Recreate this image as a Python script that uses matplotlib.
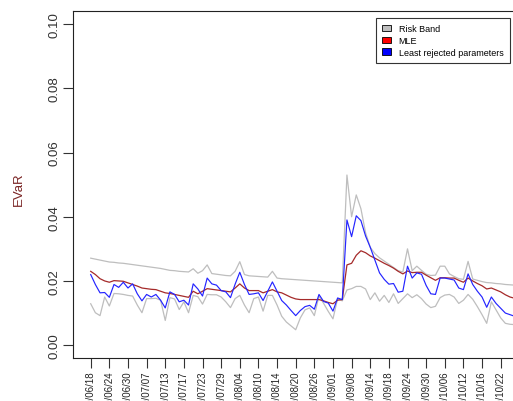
import matplotlib.pyplot as plt
from matplotlib.patches import Patch

plt.rcParams.update({"font.family": ["Liberation Sans", "DejaVu Sans"]})

# tick labels, one every 4 observations
tick_labels = [
    "2010/06/18", "2010/06/24", "2010/06/30", "2010/07/07", "2010/07/13",
    "2010/07/17", "2010/07/23", "2010/07/29", "2010/08/04", "2010/08/10",
    "2010/08/14", "2010/08/20", "2010/08/26", "2010/09/01", "2010/09/08",
    "2010/09/14", "2010/09/18", "2010/09/24", "2010/09/30", "2010/10/06",
    "2010/10/12", "2010/10/16", "2010/10/22",
]

band_upper = [
    0.0271, 0.0268, 0.0265, 0.0262, 0.0259, 0.0258, 0.0256, 0.0255, 0.0253, 0.0251,
    0.0249, 0.0247, 0.0245, 0.0243, 0.0241, 0.0239, 0.0236, 0.0233, 0.0232, 0.0230,
    0.0229, 0.0228, 0.0238, 0.0224, 0.0232, 0.0250, 0.0223, 0.0221, 0.0219, 0.0217,
    0.0216, 0.0230, 0.0260, 0.0220, 0.0216, 0.0215, 0.0214, 0.0213, 0.0212, 0.0230,
    0.0209, 0.0207, 0.0206, 0.0205, 0.0204, 0.0203, 0.0202, 0.0201, 0.0200, 0.0199,
    0.0198, 0.0197, 0.0196, 0.0195, 0.0194, 0.0530, 0.0400, 0.0468, 0.0425, 0.0350,
    0.0305, 0.0285, 0.0272, 0.0262, 0.0252, 0.0242, 0.0232, 0.0228, 0.0300, 0.0232,
    0.0246, 0.0233, 0.0221, 0.0217, 0.0218, 0.0246, 0.0246, 0.0222, 0.0214, 0.0207,
    0.0205, 0.0261, 0.0206, 0.0202, 0.0198, 0.0195, 0.0194, 0.0192, 0.0191, 0.0189,
    0.0188, 0.0187,
]

band_lower = [
    0.0129, 0.0101, 0.0092, 0.0150, 0.0122, 0.0161, 0.0160, 0.0158, 0.0155, 0.0153,
    0.0125, 0.0101, 0.0145, 0.0145, 0.0146, 0.0140, 0.0077, 0.0148, 0.0144, 0.0111,
    0.0135, 0.0101, 0.0155, 0.0151, 0.0128, 0.0158, 0.0157, 0.0157, 0.0150, 0.0135,
    0.0117, 0.0145, 0.0155, 0.0125, 0.0101, 0.0145, 0.0150, 0.0106, 0.0155, 0.0155,
    0.0125, 0.0090, 0.0072, 0.0060, 0.0048, 0.0085, 0.0110, 0.0116, 0.0092, 0.0153,
    0.0130, 0.0105, 0.0082, 0.0145, 0.0138, 0.0172, 0.0176, 0.0183, 0.0183, 0.0175,
    0.0142, 0.0163, 0.0137, 0.0155, 0.0133, 0.0160, 0.0130, 0.0145, 0.0160, 0.0148,
    0.0157, 0.0145, 0.0128, 0.0117, 0.0121, 0.0148, 0.0156, 0.0158, 0.0150, 0.0130,
    0.0140, 0.0158, 0.0143, 0.0120, 0.0095, 0.0068, 0.0135, 0.0110, 0.0085, 0.0068,
    0.0065, 0.0064,
]

mle = [
    0.0230, 0.0220, 0.0207, 0.0200, 0.0196, 0.0201, 0.0200, 0.0199, 0.0194, 0.0189,
    0.0184, 0.0178, 0.0176, 0.0174, 0.0173, 0.0168, 0.0163, 0.0161, 0.0158, 0.0155,
    0.0152, 0.0149, 0.0168, 0.0160, 0.0168, 0.0176, 0.0174, 0.0172, 0.0170, 0.0168,
    0.0166, 0.0178, 0.0191, 0.0178, 0.0170, 0.0170, 0.0170, 0.0163, 0.0168, 0.0173,
    0.0166, 0.0163, 0.0156, 0.0149, 0.0144, 0.0142, 0.0142, 0.0142, 0.0142, 0.0142,
    0.0138, 0.0133, 0.0129, 0.0140, 0.0142, 0.0250, 0.0255, 0.0280, 0.0294, 0.0288,
    0.0278, 0.0271, 0.0263, 0.0255, 0.0248, 0.0240, 0.0230, 0.0222, 0.0231, 0.0226,
    0.0227, 0.0227, 0.0218, 0.0210, 0.0202, 0.0210, 0.0210, 0.0209, 0.0209, 0.0202,
    0.0196, 0.0209, 0.0200, 0.0192, 0.0185, 0.0175, 0.0178, 0.0172, 0.0166, 0.0157,
    0.0150, 0.0146,
]

least_rejected = [
    0.0220, 0.0189, 0.0163, 0.0164, 0.0149, 0.0189, 0.0180, 0.0196, 0.0178, 0.0191,
    0.0160, 0.0138, 0.0158, 0.0150, 0.0158, 0.0140, 0.0116, 0.0166, 0.0158, 0.0135,
    0.0140, 0.0125, 0.0191, 0.0175, 0.0153, 0.0209, 0.0191, 0.0187, 0.0170, 0.0166,
    0.0148, 0.0190, 0.0227, 0.0189, 0.0158, 0.0160, 0.0163, 0.0139, 0.0168, 0.0197,
    0.0168, 0.0139, 0.0125, 0.0108, 0.0092, 0.0108, 0.0120, 0.0124, 0.0112, 0.0158,
    0.0136, 0.0131, 0.0106, 0.0147, 0.0142, 0.0390, 0.0338, 0.0403, 0.0388, 0.0340,
    0.0305, 0.0265, 0.0225, 0.0205, 0.0190, 0.0192, 0.0165, 0.0168, 0.0246, 0.0209,
    0.0225, 0.0221, 0.0186, 0.0160, 0.0158, 0.0209, 0.0209, 0.0206, 0.0203, 0.0178,
    0.0173, 0.0222, 0.0189, 0.0168, 0.0150, 0.0118, 0.0150, 0.0130, 0.0115, 0.0100,
    0.0095, 0.0090,
]

x = list(range(len(mle)))

fig = plt.figure(figsize=(5.13, 4.02), dpi=100)
# R-style plot region, cropped on the right like the original screenshot
ax = fig.add_axes([73 / 513, 43 / 402, 478 / 513, 346.7 / 402])

ax.plot(x, band_upper, color="#BEBEBE", lw=0.9)
ax.plot(x, band_lower, color="#BEBEBE", lw=0.9)
ax.plot(x, mle, color="#A52A2A", lw=0.9)
ax.plot(x, least_rejected, color="#2424ff", lw=0.85)

ax.set_xlim(-3.8, 98.8)
ax.set_ylim(-0.004, 0.104)

ax.set_yticks([0.0, 0.02, 0.04, 0.06, 0.08, 0.10])
ax.set_yticklabels(["0.00", "0.02", "0.04", "0.06", "0.08", "0.10"],
                   rotation=90, va="center", fontsize=9.5, color="#333333")
ax.set_xticks(range(0, 4 * len(tick_labels), 4))
ax.set_xticklabels(tick_labels, rotation=90, fontsize=7, color="#222222")
ax.tick_params(axis="both", length=7, width=0.8, color="#333333", pad=2)

for s in ax.spines.values():
    s.set_linewidth(0.8)
    s.set_color("#222222")

ax.set_ylabel("EVaR", fontsize=9.5, color="#7a2424")
ax.yaxis.set_label_coords(-0.10, 0.49)

handles = [
    Patch(facecolor="#BEBEBE", edgecolor="black", lw=0.6, label="Risk Band"),
    Patch(facecolor="red", edgecolor="black", lw=0.6, label="MLE"),
    Patch(facecolor="blue", edgecolor="black", lw=0.6, label="Least rejected parameters"),
]
leg = fig.legend(handles=handles, loc="upper left",
                 bbox_to_anchor=(376 / 513, 1 - 19 / 402),
                 fontsize=6.5, fancybox=False, framealpha=1,
                 handlelength=1.0, handleheight=0.7, handletextpad=0.8,
                 labelspacing=0.3, borderpad=0.7, borderaxespad=0)
leg.get_frame().set_edgecolor("#333333")
leg.get_frame().set_linewidth(0.8)

fig.savefig("out.png", dpi=100)
